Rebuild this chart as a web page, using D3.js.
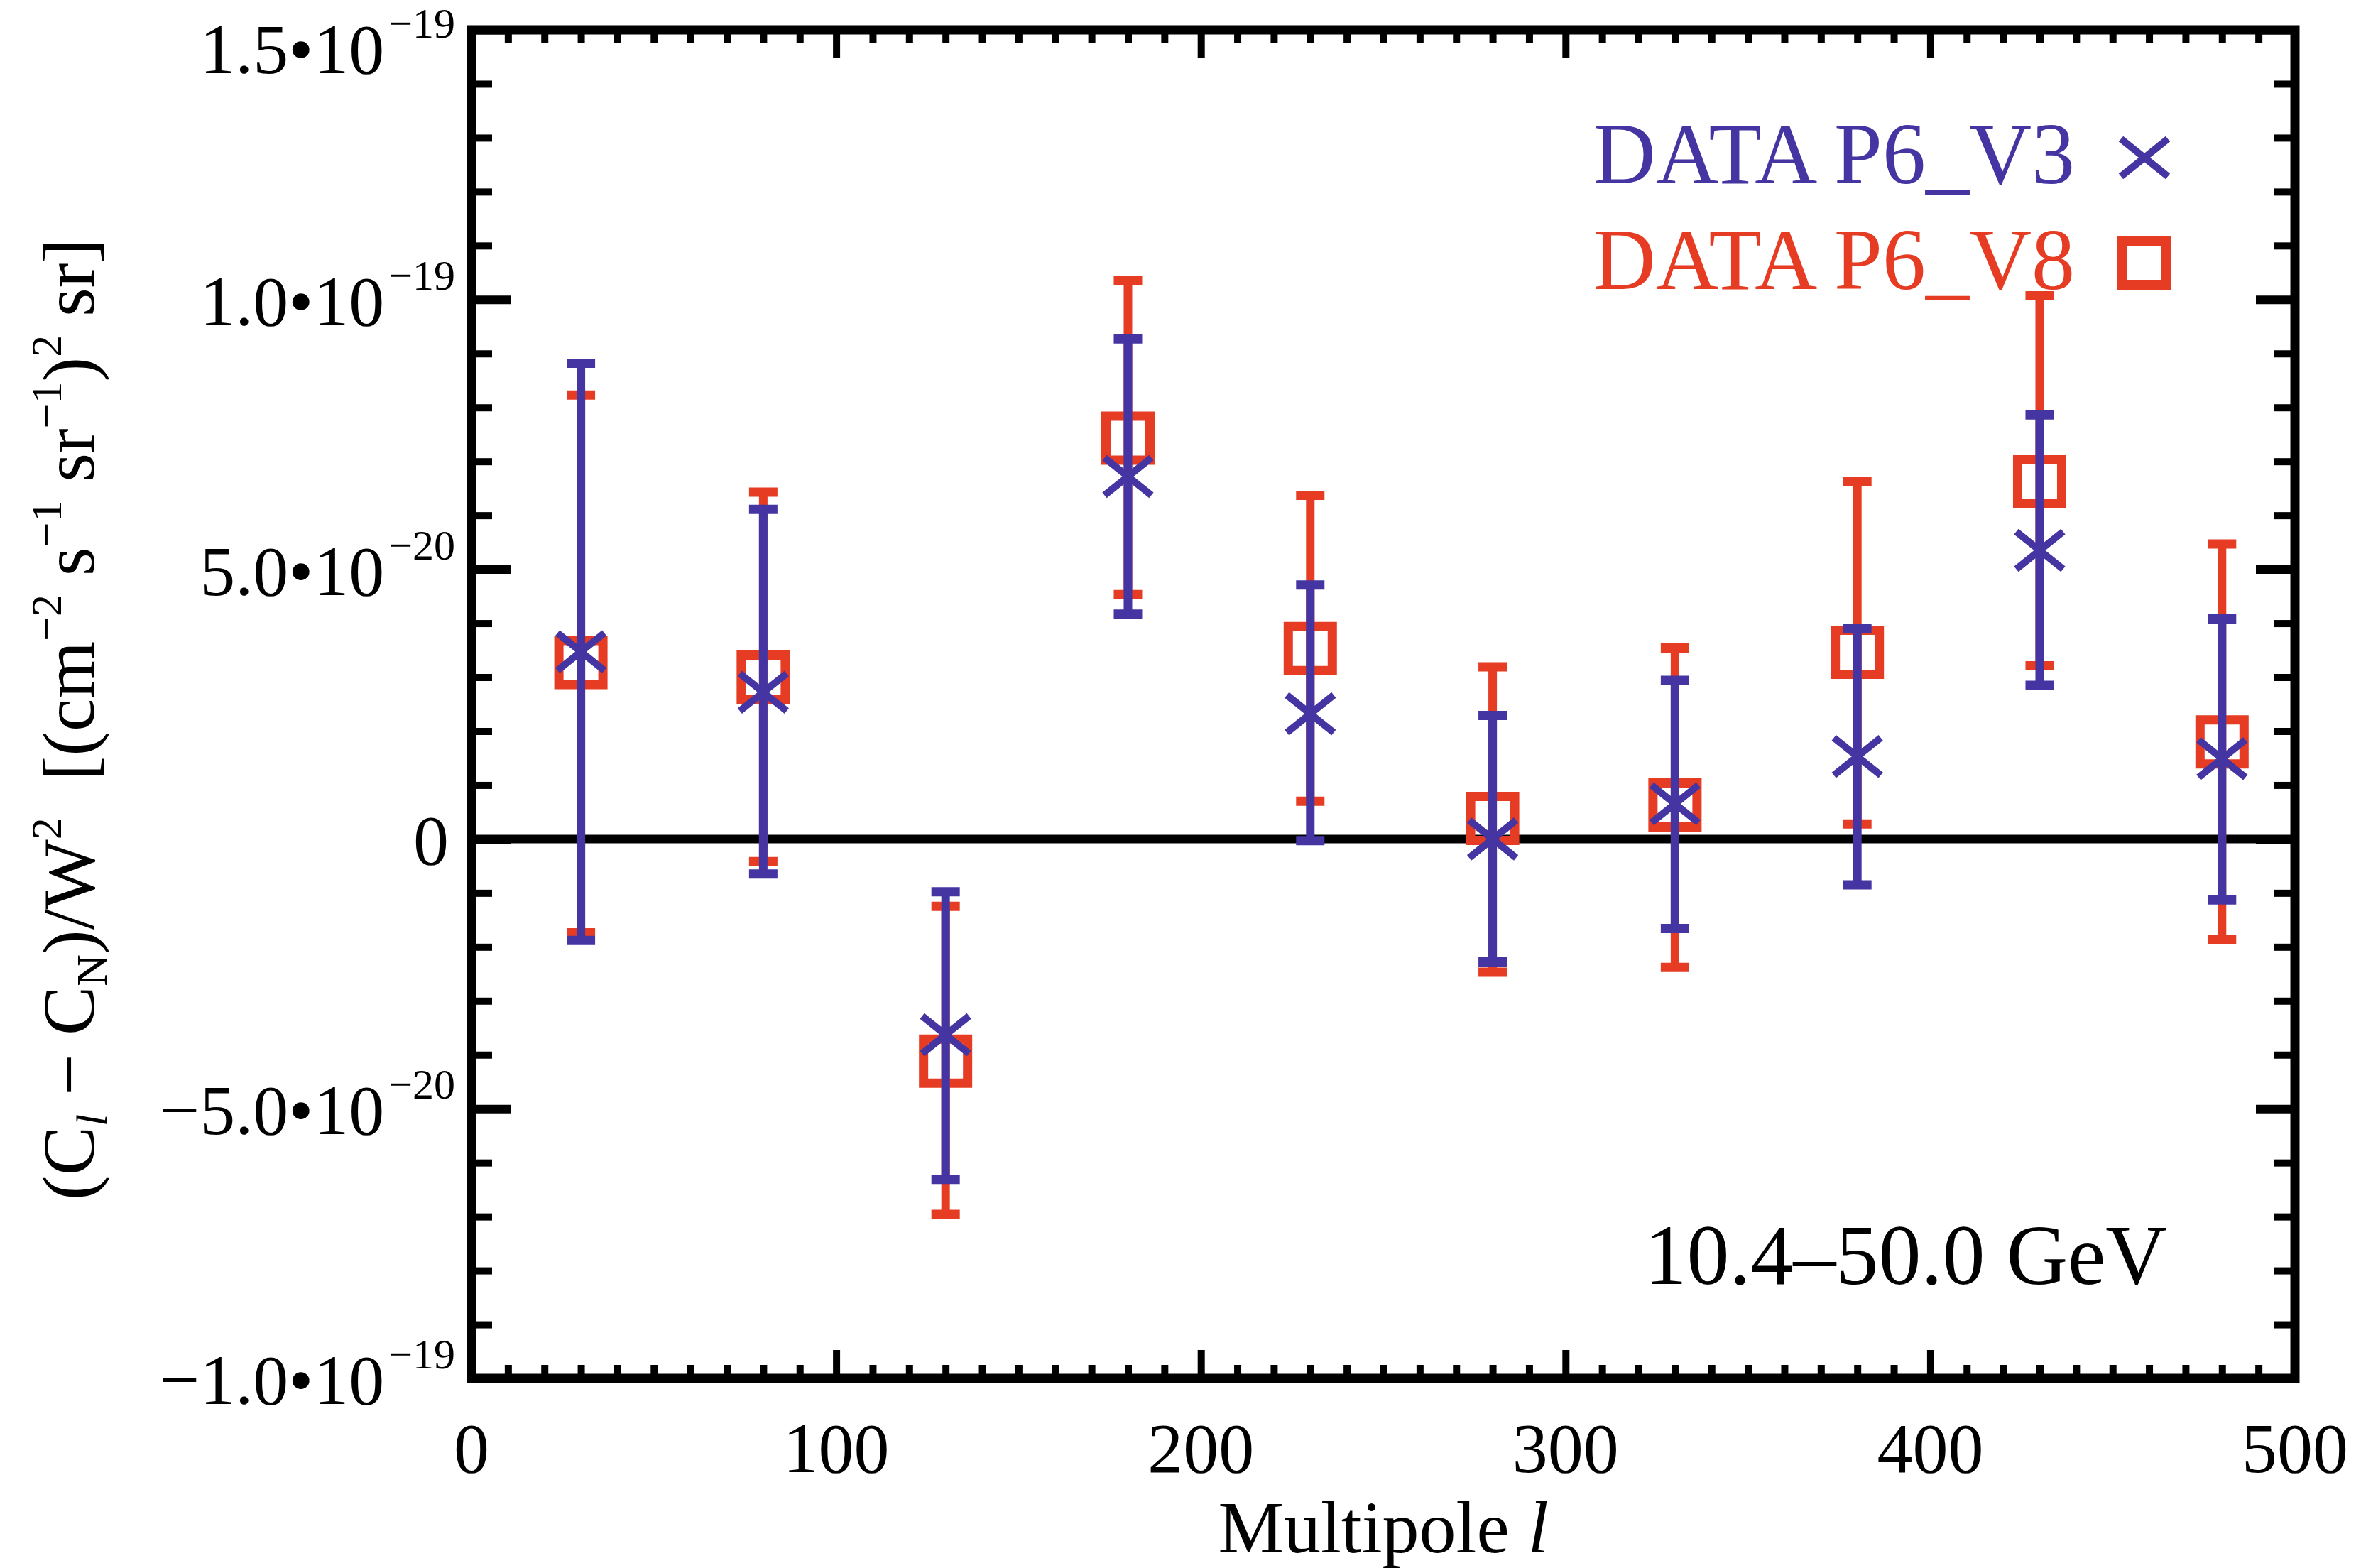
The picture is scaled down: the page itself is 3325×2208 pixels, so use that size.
<!DOCTYPE html>
<html>
<head>
<meta charset="utf-8">
<script src="https://cdn.jsdelivr.net/npm/d3@7"></script>
<style>
  html, body { margin: 0; padding: 0; background: #fff; }
  svg { display: block; }
  text { font-family: "Liberation Serif", "Times New Roman", serif; }
</style>
</head>
<body>
<svg id="chart" width="3325" height="2208"></svg>
<script>
// ---------- data (values in units of (cm^-2 s^-1 sr^-1)^2 sr) ----------
const multipoles = [30, 80, 130, 180, 230, 280, 330, 380, 430, 480];

const v3Value = [3.47e-20, 2.72e-20, -3.63e-20, 6.72e-20, 2.32e-20, 0.0, 0.65e-20, 1.53e-20, 5.35e-20, 1.49e-20];
const v3Low   = [-1.88e-20, -0.65e-20, -6.31e-20, 4.17e-20, -0.03e-20, -2.28e-20, -1.66e-20, -0.85e-20, 2.85e-20, -1.13e-20];
const v3High  = [8.82e-20, 6.11e-20, -0.98e-20, 9.27e-20, 4.71e-20, 2.29e-20, 2.94e-20, 3.91e-20, 7.86e-20, 4.08e-20];

const v8Value = [3.27e-20, 3.00e-20, -4.12e-20, 7.43e-20, 3.53e-20, 0.38e-20, 0.63e-20, 3.46e-20, 6.62e-20, 1.80e-20];
const v8Low   = [-1.74e-20, -0.42e-20, -6.96e-20, 4.53e-20, 0.70e-20, -2.47e-20, -2.38e-20, 0.28e-20, 3.21e-20, -1.86e-20];
const v8High  = [8.23e-20, 6.43e-20, -1.25e-20, 10.35e-20, 6.37e-20, 3.19e-20, 3.54e-20, 6.63e-20, 10.07e-20, 5.47e-20];

const seriesNames = ["DATA P6_V3", "DATA P6_V8"];

const xDomain = [0, 500];
const yDomain = [-1.0e-19, 1.5e-19];
const xTickValues = [0, 100, 200, 300, 400, 500];
const xTickLabels = ["0", "100", "200", "300", "400", "500"];
const yTickValues = [1.5e-19, 1.0e-19, 5.0e-20, 0, -5.0e-20, -1.0e-19];
const yTickMantissa = ["1.5\u202210", "1.0\u202210", "5.0\u202210", "0", "\u22125.0\u202210", "\u22121.0\u202210"];
const yTickExponent = ["\u221219", "\u221219", "\u221220", "", "\u221220", "\u221219"];
const energyLabel = "10.4\u201350.0 GeV";

// ---------- layout ----------
const svg = d3.select("#chart");
const BLUE = "#4535A2";
const RED = "#E53C23";
const plot = { left: 664, right: 3232, top: 42, bottom: 1941 };

const x = d3.scaleLinear().domain(xDomain).range([plot.left, plot.right]);
const y = d3.scaleLinear().domain(yDomain).range([plot.bottom, plot.top]);

const axisW = 13, tickW = 10;

// ---------- ticks via d3 axes ----------
function styleTicks(g, w) {
  g.select(".domain").remove();
  g.selectAll(".tick line").attr("stroke", "#000").attr("stroke-width", w);
  g.selectAll(".tick text").remove();
}
const xMinor = d3.range(0, 501, 10).filter(v => v % 100 !== 0);
const yMinor = d3.range(-10, 16, 1).filter(v => v % 5 !== 0).map(v => v * 1e-20);

// bottom
svg.append("g").attr("transform", `translate(0,${plot.bottom})`)
  .call(d3.axisBottom(x).tickValues(xTickValues).tickSize(-40)).call(g => styleTicks(g, tickW));
svg.append("g").attr("transform", `translate(0,${plot.bottom})`)
  .call(d3.axisBottom(x).tickValues(xMinor).tickSize(-19)).call(g => styleTicks(g, tickW));
// top
svg.append("g").attr("transform", `translate(0,${plot.top})`)
  .call(d3.axisTop(x).tickValues(xTickValues).tickSize(-40)).call(g => styleTicks(g, tickW));
svg.append("g").attr("transform", `translate(0,${plot.top})`)
  .call(d3.axisTop(x).tickValues(xMinor).tickSize(-19)).call(g => styleTicks(g, tickW));
// left
svg.append("g").attr("transform", `translate(${plot.left},0)`)
  .call(d3.axisLeft(y).tickValues(yTickValues).tickSize(-55)).call(g => styleTicks(g, 12));
svg.append("g").attr("transform", `translate(${plot.left},0)`)
  .call(d3.axisLeft(y).tickValues(yMinor).tickSize(-29)).call(g => styleTicks(g, tickW));
// right
svg.append("g").attr("transform", `translate(${plot.right},0)`)
  .call(d3.axisRight(y).tickValues(yTickValues).tickSize(-55)).call(g => styleTicks(g, 12));
svg.append("g").attr("transform", `translate(${plot.right},0)`)
  .call(d3.axisRight(y).tickValues(yMinor).tickSize(-29)).call(g => styleTicks(g, tickW));

// frame
svg.append("rect")
  .attr("x", x(xDomain[0])).attr("y", y(yDomain[1]))
  .attr("width", x(xDomain[1]) - x(xDomain[0]))
  .attr("height", y(yDomain[0]) - y(yDomain[1]))
  .attr("fill", "none").attr("stroke", "#000").attr("stroke-width", axisW);

// zero line
svg.append("line")
  .attr("x1", x(xDomain[0])).attr("x2", x(xDomain[1]))
  .attr("y1", y(0)).attr("y2", y(0))
  .attr("stroke", "#000").attr("stroke-width", 12);

// ---------- tick labels ----------
const xl = svg.append("g").attr("font-size", 100).attr("text-anchor", "middle");
xl.selectAll("text").data(xTickValues).join("text")
  .attr("x", d => x(d)).attr("y", 2073)
  .text((d, i) => xTickLabels[i]);

const yl = svg.append("g").attr("font-size", 100).attr("text-anchor", "end");
yTickValues.forEach((v, i) => {
  // the topmost label is pushed down so it stays inside the figure
  const off = (v === yDomain[1]) ? 61 : 36;
  const t = yl.append("text").attr("x", yTickExponent[i] ? 641 : 632).attr("y", y(v) + off);
  t.append("tspan").text(yTickMantissa[i]);
  if (yTickExponent[i]) {
    t.append("tspan").attr("font-size", 60).attr("dx", 6).attr("dy", -50).text(yTickExponent[i]);
  }
});

// ---------- axis titles ----------
const xt = svg.append("text").attr("x", (plot.left + plot.right) / 2).attr("y", 2186)
  .attr("font-size", 104).attr("text-anchor", "middle");
xt.append("tspan").text("Multipole\u00A0");
xt.append("tspan").attr("font-style", "italic").text("l");

const yt = svg.append("text")
  .attr("transform", `translate(132,1013) rotate(-90)`)
  .attr("font-size", 104).attr("text-anchor", "middle");
const SUB = 18, SUP = 46, SS = 62;
const parts = [
  ["(C", 0, null],
  ["l", SUB, "sub-italic"],
  ["\u00A0\u2212\u00A0C", -SUB, null],
  ["N", SUB, "sub"],
  [")/W", -SUB, null],
  ["2", -SUP, "sup"],
  ["\u00A0\u00A0[(cm", SUP, null],
  ["\u22122", -SUP, "sup"],
  ["\u00A0s", SUP, null],
  ["\u22121", -SUP, "sup"],
  ["\u00A0sr", SUP, null],
  ["\u22121", -SUP, "sup"],
  [")", SUP, null],
  ["2", -SUP, "sup"],
  ["\u00A0sr]", SUP, null]
];
parts.forEach(([txt, dy, kind]) => {
  const ts = yt.append("tspan").attr("dy", dy).text(txt);
  if (kind) ts.attr("font-size", SS);
  if (kind === "sub-italic") ts.attr("font-style", "italic");
});

// energy annotation
svg.append("text").attr("x", 3052).attr("y", 1808)
  .attr("font-size", 120).attr("text-anchor", "end").attr("fill", "#000")
  .text(energyLabel);

// ---------- error bars and markers ----------
const capHalf = 20, barW = 12, capW = 13;
function drawSeries(vals, lows, highs, color, marker) {
  const g = svg.append("g");
  const d = multipoles.map((l, i) => ({ l, v: vals[i], lo: lows[i], hi: highs[i] }));
  g.selectAll("line.bar").data(d).join("line")
    .attr("x1", p => x(p.l)).attr("x2", p => x(p.l))
    .attr("y1", p => y(p.lo)).attr("y2", p => y(p.hi))
    .attr("stroke", color).attr("stroke-width", barW);
  ["lo", "hi"].forEach(k => {
    g.selectAll("line.cap" + k).data(d).join("line")
      .attr("x1", p => x(p.l) - capHalf).attr("x2", p => x(p.l) + capHalf)
      .attr("y1", p => y(p[k])).attr("y2", p => y(p[k]))
      .attr("stroke", color).attr("stroke-width", capW);
  });
  g.selectAll("path.mk").data(d).join("path")
    .attr("d", p => marker(x(p.l), y(p.v)))
    .attr("fill", "none").attr("stroke", color)
    .attr("stroke-width", marker === squarePath ? 13 : 10);
}
function squarePath(cx, cy) {
  const s = 31;
  return `M${cx - s},${cy - s}H${cx + s}V${cy + s}H${cx - s}Z`;
}
function crossPath(cx, cy) {
  const s = 33;
  return `M${cx - s},${cy - s * 0.8}L${cx + s},${cy + s * 0.8}M${cx - s},${cy + s * 0.8}L${cx + s},${cy - s * 0.8}`;
}
drawSeries(v8Value, v8Low, v8High, RED, squarePath);
drawSeries(v3Value, v3Low, v3High, BLUE, crossPath);

// ---------- legend ----------
const lg = svg.append("g").attr("font-size", 122).attr("text-anchor", "end");
lg.append("text").attr("x", 2922).attr("y", 258).attr("fill", BLUE).text(seriesNames[0]);
lg.append("text").attr("x", 2922).attr("y", 407).attr("fill", RED).text(seriesNames[1]);
lg.append("path").attr("d", crossPath(3020, 222)).attr("fill", "none").attr("stroke", BLUE).attr("stroke-width", 10);
lg.append("path").attr("d", squarePath(3019, 370)).attr("fill", "none").attr("stroke", RED).attr("stroke-width", 14);
</script>
</body>
</html>
